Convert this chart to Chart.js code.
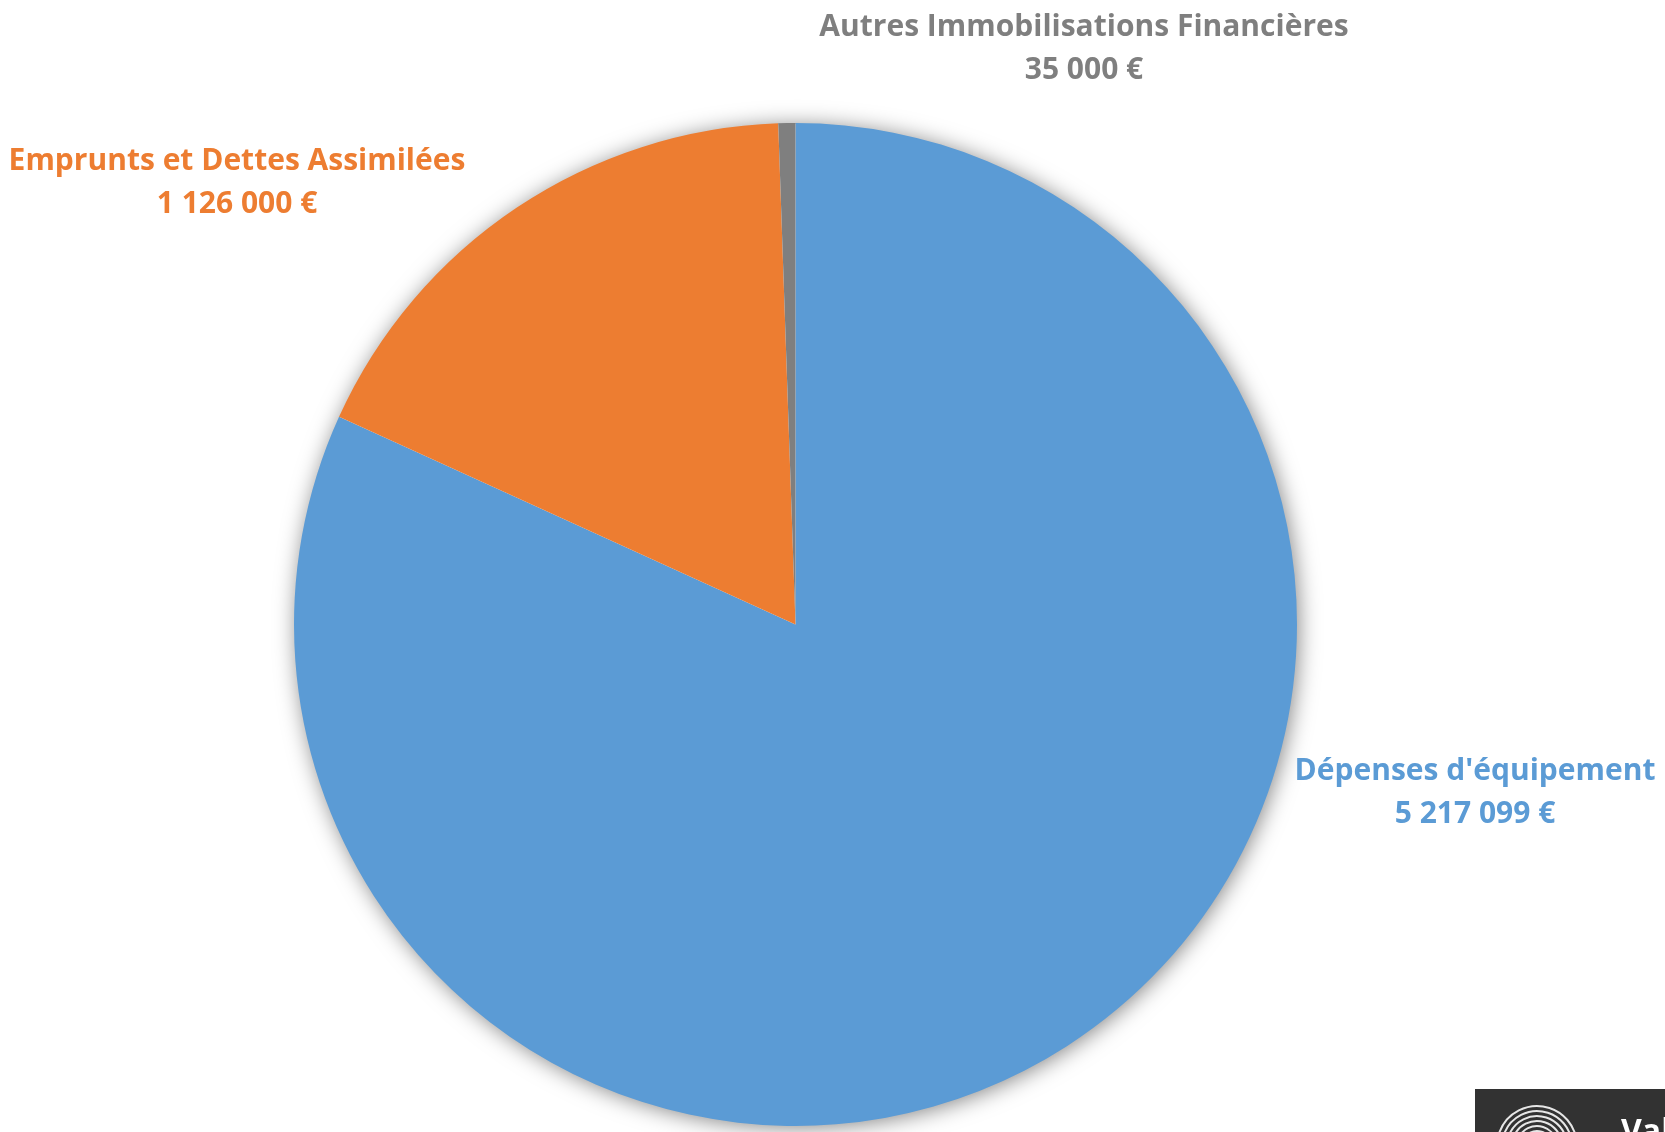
<!DOCTYPE html>
<html lang="fr">

<head>
    <meta charset="UTF-8">
    <title>Dépenses d'investissement</title>
    <script src="https://cdn.jsdelivr.net/npm/chart.js"></script>
    <style>
        html, body { margin: 0; padding: 0; background: #ffffff; }
        #zone { position: relative; width: 1665px; height: 1132px; }
    </style>
</head>

<body>
    <div id="zone">
        <canvas id="graficoPizza" width="1665" height="1132"></canvas>
    </div>
</body>

<script>

    // dados do gráfico
    const categorias = ["Dépenses d'équipement", "Emprunts et Dettes Assimilées", "Autres Immobilisations Financières"];
    const valores = [5217099, 1126000, 35000];
    const cores = ['#5B9BD5', '#ED7D31', '#7F7F7F'];

    // posição dos rótulos (x, y do centro da primeira linha)
    const posRotulos = [[1475, 771], [237, 161], [1084, 27]];

    function formatarEuro(v) {
        return String(v).replace(/\B(?=(\d{3})+(?!\d))/g, ' ') + ' €';
    }

    // sombra suave em volta da pizza
    const sombraPizza = {
        id: 'sombraPizza',
        beforeDatasetsDraw(chart) {
            const arco = chart.getDatasetMeta(0).data[0];
            if (!arco) return;
            const ctx = chart.ctx;
            ctx.save();
            ctx.shadowColor = 'rgba(0,0,0,0.5)';
            ctx.shadowBlur = 22;
            ctx.shadowOffsetX = 2;
            ctx.shadowOffsetY = 2;
            ctx.fillStyle = '#ffffff';
            ctx.beginPath();
            ctx.arc(arco.x, arco.y, arco.outerRadius - 1, 0, Math.PI * 2);
            ctx.fill();
            ctx.restore();
        }
    };

    // rótulos de cada fatia
    const rotulos = {
        id: 'rotulos',
        afterDatasetsDraw(chart) {
            const ctx = chart.ctx;
            ctx.save();
            ctx.font = 'bold 30px "Open Sans", sans-serif';
            ctx.textAlign = 'center';
            ctx.textBaseline = 'middle';
            for (let i = 0; i < categorias.length; i++) {
                const p = posRotulos[i];
                ctx.fillStyle = cores[i];
                ctx.fillText(categorias[i], p[0], p[1]);
                ctx.fillText(formatarEuro(valores[i]), p[0], p[1] + 43);
            }
            ctx.restore();
        }
    };

    // marca no canto inferior direito
    const marca = {
        id: 'marca',
        afterDraw(chart) {
            const ctx = chart.ctx;
            ctx.save();
            ctx.fillStyle = '#323232';
            ctx.fillRect(1475, 1089, 190, 43);
            ctx.strokeStyle = '#e6e6e6';
            ctx.lineWidth = 2;
            for (let r = 10; r <= 40; r += 5) {
                ctx.beginPath();
                ctx.arc(1537, 1146, r, Math.PI * 1.1, Math.PI * 1.95);
                ctx.stroke();
            }
            ctx.fillStyle = '#ffffff';
            ctx.font = 'bold 32px "Open Sans", sans-serif';
            ctx.textBaseline = 'alphabetic';
            ctx.fillText('Vals', 1621, 1142);
            ctx.restore();
        }
    };

    const dados = {
        labels: categorias,
        datasets: [{
            data: valores,
            backgroundColor: cores,
            borderWidth: 0
        }]
    };

    const config = {
        type: 'pie',
        data: dados,
        options: {
            responsive: false,
            animation: false,
            layout: { padding: { top: 123, bottom: 6, left: 0, right: 74 } },
            plugins: {
                legend: { display: false },
                tooltip: { enabled: false }
            }
        },
        plugins: [sombraPizza, rotulos, marca]
    };

    let meuGrafico = new Chart(document.getElementById('graficoPizza'), config);

</script>

</html>
